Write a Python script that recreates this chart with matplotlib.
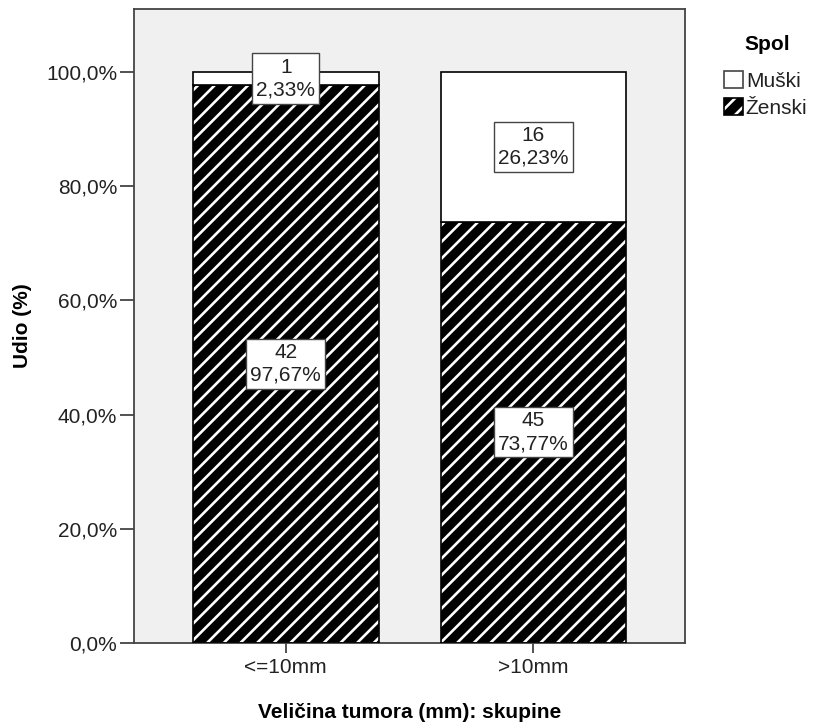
import matplotlib.pyplot as plt
from matplotlib.patches import Patch
from matplotlib.legend_handler import HandlerTuple

plt.rcParams['font.family'] = ['Liberation Sans', 'DejaVu Sans']
plt.rcParams['hatch.linewidth'] = 1.9

categories = ['<=10mm', '>10mm']
zenski_pct = [97.67, 73.77]
muski_pct = [2.33, 26.23]
zenski_n = [42, 45]
muski_n = [1, 16]
yticks = [0, 20, 40, 60, 80, 100]

FS = 15
EDGE = '#444444'
TXT = '#222222'


def fmt(v):
    return f'{v:.2f}'.replace('.', ',') + '%'


def draw(ax):
    x = list(range(len(categories)))
    w = 0.75
    # Zenski: black with white diagonal stripes
    ax.bar(x, zenski_pct, w, color='black', edgecolor='white', hatch='//', linewidth=0, zorder=2)
    ax.bar(x, zenski_pct, w, facecolor='none', edgecolor='black', linewidth=1.2, zorder=3)
    # Muski: white on top
    ax.bar(x, muski_pct, w, bottom=zenski_pct, color='white', edgecolor='black', linewidth=1.2, zorder=3)

    box = dict(boxstyle='square,pad=0.2', facecolor='white', edgecolor=EDGE, linewidth=1.0)
    for i in x:
        ax.text(i, zenski_pct[i] / 2, f'{zenski_n[i]}\n{fmt(zenski_pct[i])}', ha='center', va='center',
                fontsize=FS, color=TXT, bbox=box, zorder=5, linespacing=1.25)
        ax.text(i, zenski_pct[i] + muski_pct[i] / 2, f'{muski_n[i]}\n{fmt(muski_pct[i])}', ha='center',
                va='center', fontsize=FS, color=TXT, bbox=box, zorder=5, linespacing=1.25)

    ax.set_xlim(-0.613, 1.612)
    ax.set_ylim(0, 111)
    ax.set_facecolor('#f0f0f0')
    for s in ax.spines.values():
        s.set_color(EDGE)
        s.set_linewidth(1.3)

    ax.set_xticks(x)
    ax.set_xticklabels(categories)
    ax.set_yticks(yticks)
    ax.set_yticklabels([f'{v:.1f}'.replace('.', ',') + '%' for v in yticks])
    ax.tick_params(axis='y', length=10, width=1.3, color=EDGE, pad=2, labelsize=FS, labelcolor=TXT)
    ax.tick_params(axis='x', length=7, width=1.3, color=EDGE, pad=4, labelsize=FS, labelcolor=TXT)

    ax.set_ylabel('Udio (%)', fontsize=FS, fontweight='bold', va='center')
    ax.yaxis.set_label_coords(-0.203, 0.5)
    ax.set_xlabel('Veličina tumora (mm): skupine', fontsize=FS, fontweight='bold', va='center')
    ax.xaxis.set_label_coords(0.5, -0.109)


def add_legend(fig):
    fig.text(767 / 814, 1 - 45 / 727, 'Spol', ha='center', va='center', fontsize=FS, fontweight='bold')
    muski_h = Patch(facecolor='white', edgecolor=EDGE, linewidth=1.2)
    zen_fill = Patch(facecolor='black', edgecolor='white', hatch='//', linewidth=0)
    zen_edge = Patch(facecolor='none', edgecolor='black', linewidth=1.2)
    leg = fig.legend([muski_h, (zen_fill, zen_edge)], ['Muški', 'Ženski'],
                     handler_map={tuple: HandlerTuple(ndivide=1, pad=0)},
                     loc='upper left', bbox_to_anchor=(724 / 814, 1 - 71 / 727),
                     frameon=False, fontsize=FS,
                     handlelength=0.9, handleheight=0.9, handletextpad=0.15,
                     labelspacing=0.35, borderpad=0, borderaxespad=0)
    for t in leg.get_texts():
        t.set_color(TXT)


def main():
    fig = plt.figure(figsize=(8.14, 7.27), dpi=100)
    ax = fig.add_axes([134 / 814, 1 - 643 / 727, 551 / 814, 634 / 727])
    draw(ax)
    add_legend(fig)
    fig.savefig('out.png', dpi=100)


if __name__ == '__main__':
    main()
